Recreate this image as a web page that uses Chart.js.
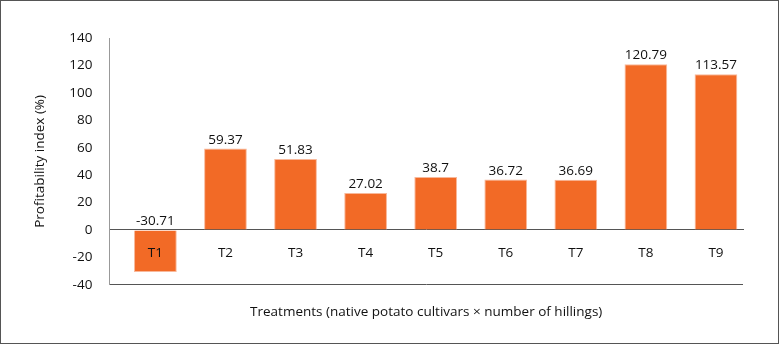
<!DOCTYPE html>
<html>
<head>
<meta charset="utf-8">
<script src="https://cdn.jsdelivr.net/npm/chart.js@4"></script>
<style>
  html, body { margin: 0; padding: 0; background: #fff; }
  #wrap { width: 779px; height: 344px; box-sizing: border-box; border: 1px solid #555; }
</style>
</head>
<body>
<div id="wrap"><canvas id="myChart" width="777" height="342"></canvas></div>
<script>
// profitability index per treatment
const treatments = ['T1', 'T2', 'T3', 'T4', 'T5', 'T6', 'T7', 'T8', 'T9'];
const profitIndex = [-30.71, 59.37, 51.83, 27.02, 38.7, 36.72, 36.69, 120.79, 113.57];
const valueLabels = ['-30.71', '59.37', '51.83', '27.02', '38.7', '36.72', '36.69', '120.79', '113.57'];
const yTicks = [-40, -20, 0, 20, 40, 60, 80, 100, 120, 140];

const fontFam = '"Open Sans", "Noto Sans", sans-serif';
const fSize = 13.5;

// bars placed by treatment index on a linear x axis (first slot a bit wider, like the original)
const points = profitIndex.map((v, i) => ({ x: i, y: v }));

// value text above each bar (or above zero line for negatives)
const barLabels = {
  id: 'barLabels',
  afterDatasetsDraw(chart) {
    const c = chart.ctx;
    const meta = chart.getDatasetMeta(0);
    const yScale = chart.scales.y;
    c.save();
    c.font = fSize + 'px ' + fontFam;
    c.fillStyle = '#111';
    c.textAlign = 'center';
    c.textBaseline = 'bottom';
    meta.data.forEach((bar, i) => {
      const top = profitIndex[i] >= 0 ? bar.y : yScale.getPixelForValue(0);
      c.fillText(valueLabels[i], bar.x, top - 2);
    });
    c.restore();
  }
};

const ctx = document.getElementById('myChart');
new Chart(ctx, {
  type: 'bar',
  data: {
    datasets: [{
      data: points,
      backgroundColor: '#F26A26',
      borderColor: '#F8B89A',
      borderWidth: 1,
      barPercentage: 0.61,
      categoryPercentage: 1
    }]
  },
  options: {
    responsive: false,
    animation: false,
    layout: { padding: { left: 31, right: 35, top: 37, bottom: 8 } },
    plugins: {
      legend: { display: false },
      tooltip: { enabled: false },
      title: {
        display: true,
        position: 'bottom',
        fullSize: false,
        text: 'Treatments (native potato cultivars \u00d7 number of hillings)',
        color: '#111',
        font: { family: fontFam, size: fSize, weight: 'normal' },
        padding: { top: 19, bottom: 15 }
      }
    },
    scales: {
      x: {
        type: 'linear',
        position: { y: 0 },
        offset: false,
        min: -0.657,
        max: 8.386,
        afterBuildTicks: (axis) => { axis.ticks = treatments.map((t, i) => ({ value: i })); },
        grid: { display: false },
        border: { display: true, color: '#555', width: 1 },
        ticks: {
          z: 1, color: '#111', padding: 7, maxRotation: 0, autoSkip: false,
          font: { family: fontFam, size: fSize },
          callback: (v) => treatments[v]
        }
      },
      y: {
        min: -40,
        max: 140,
        afterBuildTicks: (axis) => { axis.ticks = yTicks.map(v => ({ value: v })); },
        grid: {
          drawTicks: false,
          color: (c) => (c.tick && c.tick.value === -40 ? '#555' : 'rgba(0,0,0,0)')
        },
        border: { display: true, color: '#999', width: 1 },
        ticks: { color: '#111', padding: 17, font: { family: fontFam, size: fSize } },
        title: {
          display: true,
          text: 'Profitability index (%)',
          color: '#111',
          font: { family: fontFam, size: fSize },
          padding: { top: 0, bottom: 4 }
        }
      }
    }
  },
  plugins: [barLabels]
});
</script>
</body>
</html>
